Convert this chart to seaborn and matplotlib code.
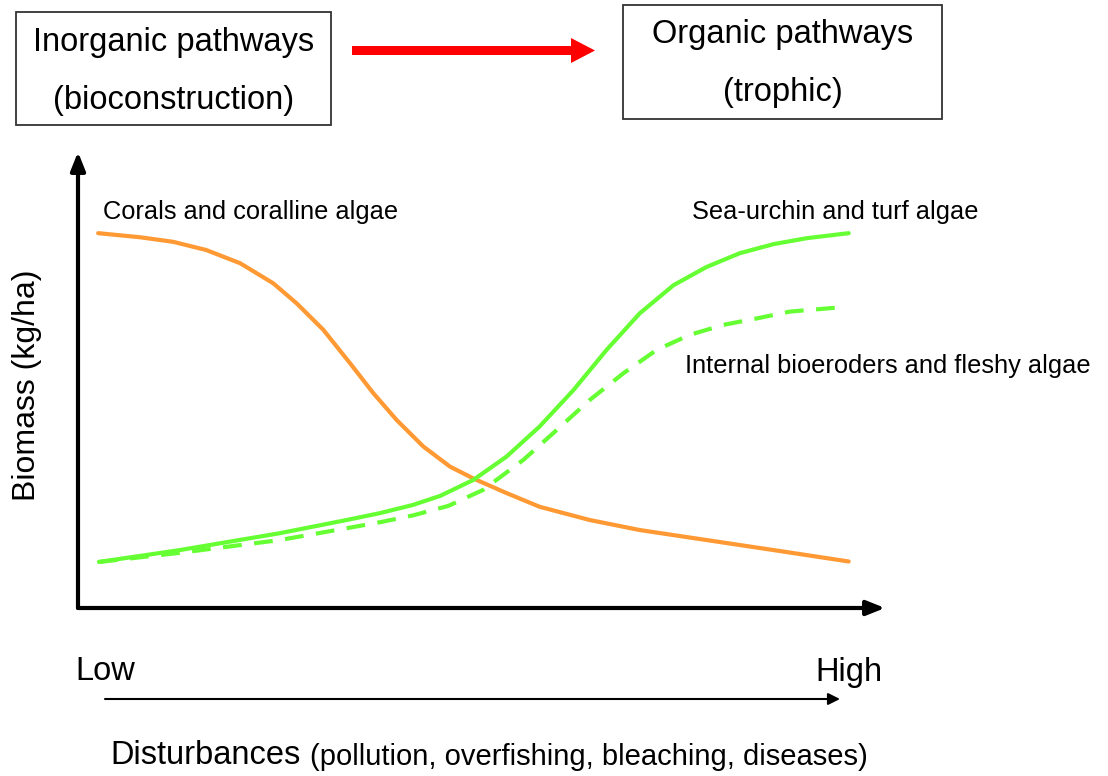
import matplotlib
matplotlib.use("Agg")
import matplotlib.pyplot as plt
from matplotlib.patches import Rectangle, FancyArrow
import pandas as pd
import seaborn as sns

# Disturbance level (0 = low, 100 = high) and relative biomass (0-100)
coral_x = [2.5, 7.7, 11.8, 15.9, 20.1, 24.2, 27.1, 30.4, 33.7, 36.6, 39.5,
           42.8, 46.1, 49.0, 53.1, 57.2, 63.4, 69.6, 77.9, 86.2, 95.5]
coral_y = [82.2, 81.3, 80.3, 78.5, 75.6, 71.2, 66.8, 61.0, 53.7, 47.1, 41.2,
           35.4, 31.0, 28.4, 25.2, 22.2, 19.3, 17.1, 14.9, 12.7, 10.2]

urchin_x = [2.6, 12.6, 25.0, 33.3, 37.4, 41.5, 44.9, 49.0, 53.1, 57.2, 61.4, 65.5,
            69.6, 73.8, 77.9, 82.0, 86.2, 90.3, 95.5]
urchin_y = [10.1, 12.7, 16.4, 19.3, 20.8, 22.6, 24.6, 28.1, 33.2, 39.8, 47.8, 56.6,
            64.6, 70.8, 74.8, 77.8, 79.8, 81.1, 82.2]

bioeroder_x = [2.6, 12.6, 25.0, 33.3, 37.4, 41.5, 45.9, 50.2, 55.2, 59.3, 63.4, 67.6,
               71.7, 75.8, 80.0, 84.1, 88.2, 94.2]
bioeroder_y = [10.1, 12.1, 14.9, 17.5, 18.8, 20.3, 22.4, 25.9, 32.5, 39.0, 45.6, 51.5,
               56.6, 59.9, 62.1, 63.5, 65.0, 65.9]

curve_labels = ["Corals and coralline algae", "Sea-urchin and turf algae",
                "Internal bioeroders and fleshy algae"]
box_labels = [("Inorganic pathways", "(bioconstruction)"), ("Organic pathways", "(trophic)")]

sns.set_theme(style="white")
plt.rcParams["font.family"] = ["Liberation Sans", "DejaVu Sans"]
plt.rcParams["text.color"] = "black"
plt.rcParams["lines.solid_joinstyle"] = "round"
plt.rcParams["lines.dash_joinstyle"] = "round"

W, H = 1108, 776
fig = plt.figure(figsize=(W / 100, H / 100), dpi=100)
fig.patch.set_facecolor("white")

# overlay in pixel units for the schematic annotations
ov = fig.add_axes([0, 0, 1, 1])
ov.set_xlim(0, W)
ov.set_ylim(H, 0)
ov.axis("off")

# main diagram axes (origin at the corner of the two axis arrows)
x0, x1, y0, y1 = 78, 885, 608, 152
ax = fig.add_axes([x0 / W, 1 - y0 / H, (x1 - x0) / W, (y0 - y1) / H])
ax.set_xlim(0, 100)
ax.set_ylim(0, 100)
ax.axis("off")
ax.patch.set_alpha(0)

orange = "#FF9933"
green = "#66FF33"

df_coral = pd.DataFrame({"x": coral_x, "y": coral_y})
df_urchin = pd.DataFrame({"x": urchin_x, "y": urchin_y})
df_bio = pd.DataFrame({"x": bioeroder_x, "y": bioeroder_y})

sns.lineplot(data=df_coral, x="x", y="y", ax=ax, color=orange, lw=3,
             estimator=None, legend=False)
sns.lineplot(data=df_urchin, x="x", y="y", ax=ax, color=green, lw=3,
             estimator=None, legend=False)
sns.lineplot(data=df_bio, x="x", y="y", ax=ax, color=green, lw=3,
             estimator=None, legend=False, linestyle=(0, (4.5, 3)))

# axis arrows
axis_arrow = dict(arrowstyle="-|>,head_length=0.55,head_width=0.22", lw=3,
                  color="black", mutation_scale=20, shrinkA=0, shrinkB=0)
ax.annotate("", xy=(0, 1), xytext=(0, 0), xycoords="axes fraction",
            textcoords="axes fraction", arrowprops=axis_arrow, annotation_clip=False)
ax.annotate("", xy=(1, 0), xytext=(0, 0), xycoords="axes fraction",
            textcoords="axes fraction", arrowprops=axis_arrow, annotation_clip=False)

# curve labels
ov.text(103, 212, curve_labels[0], fontsize=18.3, ha="left", va="center")
ov.text(692, 212, curve_labels[1], fontsize=18.3, ha="left", va="center")
ov.text(685, 366, curve_labels[2], fontsize=18.3, ha="left", va="center")

# y label
ov.text(27, 385, "Biomass (kg/ha)", fontsize=23, rotation=90,
        ha="center", va="center")

# disturbance scale
ov.text(75, 672, "Low", fontsize=23.5, ha="left", va="center")
ov.text(882, 672, "High", fontsize=23.5, ha="right", va="center")
ov.annotate("", xy=(840, 699), xytext=(105, 699),
            arrowprops=dict(arrowstyle="-|>,head_length=0.5,head_width=0.25", lw=1.5,
                            color="black", mutation_scale=14, shrinkA=0, shrinkB=0))

t1 = ov.text(110, 755, "Disturbances", fontsize=23.5, ha="left", va="center")
fig.canvas.draw()
bb = t1.get_window_extent()
ov.text(bb.x1 + 10, 757, "(pollution, overfishing, bleaching, diseases)",
        fontsize=21, ha="left", va="center")

# pathway boxes
boxes = [(16, 12, 331, 125), (623, 5, 942, 119)]
for (bx0, by0, bx1, by1), (l1, l2) in zip(boxes, box_labels):
    ov.add_patch(Rectangle((bx0, by0), bx1 - bx0, by1 - by0, facecolor="none",
                           edgecolor="#333333", lw=1.3))
    cx = (bx0 + bx1) / 2
    ov.text(cx, by0 + 30, l1, fontsize=23.5, ha="center", va="center")
    ov.text(cx, by0 + 88, l2, fontsize=23.5, ha="center", va="center")

# red transition arrow
ov.add_patch(FancyArrow(352, 50.5, 243, 0, width=9, head_width=25, head_length=24,
                        length_includes_head=True, color="#FF0000", lw=0))

fig.savefig("out.png", dpi=100, facecolor="white")
